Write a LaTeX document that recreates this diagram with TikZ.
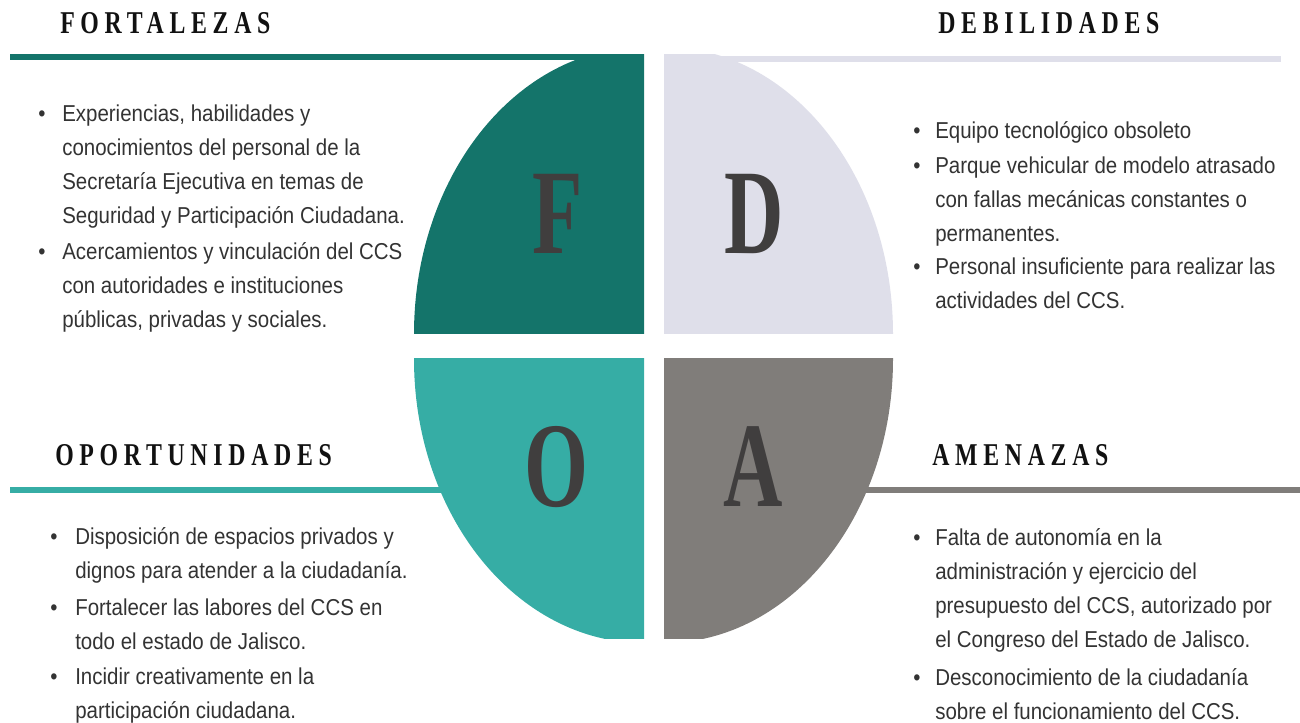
\documentclass[tikz,border=0pt]{standalone}
\usepackage{fontspec}
\setmainfont{Liberation Sans}[FakeStretch=0.89]
\newfontfamily\titlefont{Liberation Serif}[FakeStretch=0.75,LetterSpace=18]
\newfontfamily\letterfont{Liberation Serif}[FakeStretch=0.68]

\definecolor{fortcol}{RGB}{20,116,106}
\definecolor{debilcol}{RGB}{223,223,234}
\definecolor{oportcol}{RGB}{54,173,165}
\definecolor{amencol}{RGB}{128,125,122}
\definecolor{lettercol}{RGB}{64,62,62}
\definecolor{bodycol}{RGB}{51,51,51}
\definecolor{titlecol}{RGB}{17,17,17}

\tikzset{
  titletext/.style={anchor=west,inner sep=0pt,color=titlecol,font=\titlefont\bfseries\fontsize{23.8}{28}\selectfont},
  itemtext/.style={anchor=base west,inner sep=0pt,align=left,color=bodycol,font=\fontsize{17.25}{25.5}\selectfont},
  bullettext/.style={anchor=base,inner sep=0pt,color=bodycol,font=\fontsize{17.25}{25.5}\selectfont},
  quadletter/.style={inner sep=0pt,color=lettercol,font=\letterfont\bfseries\fontsize{90.75}{90}\selectfont},
  rule/.style={line width=4.5pt},
}

\begin{document}
\begin{tikzpicture}[x=0.75pt,y=0.75pt,yscale=-1,xscale=1]
\useasboundingbox (0,0) rectangle (1300,723);

%Straight Lines under the titles
\draw [rule,color=fortcol]    (10,57) -- (644,57) ;
\draw [rule,color=debilcol]   (664,59) -- (1281,59) ;
\draw [rule,color=oportcol]   (10,490) -- (500,490) ;
\draw [rule,color=amencol]    (820,490) -- (1300,490) ;

%Quarter F
\begin{scope}
\clip (414,55) rectangle (644,334);
\fill [fortcol] (644,334) ellipse [x radius=230, y radius=287];
\end{scope}
%Quarter D
\begin{scope}
\clip (664,55) rectangle (893,334);
\fill [debilcol] (664,334) ellipse [x radius=229, y radius=287];
\end{scope}
%Quarter O
\begin{scope}
\clip (414,359) rectangle (644,638);
\fill [oportcol] (644,359) ellipse [x radius=230, y radius=284];
\end{scope}
%Quarter A
\begin{scope}
\clip (664,359) rectangle (893,638);
\fill [amencol] (664,359) ellipse [x radius=229, y radius=284];
\end{scope}

% Big letters
\draw (558,214) node (letF) [quadletter] {F};
\draw (754,214) node (letD) [quadletter] {D};
\draw (556,467) node (letO) [quadletter] {O};
\draw (753,467) node (letA) [quadletter] {A};

% Titles
\draw (60,23) node (titF) [titletext] {FORTALEZAS};
\draw (938,23) node (titD) [titletext] {DEBILIDADES};
\draw (55,455) node (titO) [titletext] {OPORTUNIDADES};
\draw (932,455) node (titA) [titletext] {AMENAZAS};

% Text Node (base of a block = its last line)
\draw (42,122) node (bulF1) [bullettext] {•};
\draw (62,224) node (itemF1) [itemtext] {Experiencias, habilidades y\\conocimientos del personal de la\\Secretaría Ejecutiva en temas de\\Seguridad y Participación Ciudadana.};
\draw (42,260) node (bulF2) [bullettext] {•};
\draw (62,328) node (itemF2) [itemtext] {Acercamientos y vinculación del CCS\\con autoridades e instituciones\\públicas, privadas y sociales.};

% Text Node
\draw (917,139) node (bulD1) [bullettext] {•};
\draw (935,139) node (itemD1) [itemtext] {Equipo tecnológico obsoleto};
\draw (917,174) node (bulD2) [bullettext] {•};
\draw (935,242) node (itemD2) [itemtext] {Parque vehicular de modelo atrasado\\con fallas mecánicas constantes o\\permanentes.};
\draw (917,275) node (bulD3) [bullettext] {•};
\draw (935,309) node (itemD3) [itemtext] {Personal insuficiente para realizar las\\actividades del CCS.};

% Text Node
\draw (54,544) node (bulO1) [bullettext] {•};
\draw (75,578) node (itemO1) [itemtext] {Disposición de espacios privados y\\dignos para atender a la ciudadanía.};
\draw (54,615) node (bulO2) [bullettext] {•};
\draw (75,649) node (itemO2) [itemtext] {Fortalecer las labores del CCS en\\todo el estado de Jalisco.};
\draw (54,684) node (bulO3) [bullettext] {•};
\draw (75,718) node (itemO3) [itemtext] {Incidir creativamente en la\\participación ciudadana.};

% Text Node
\draw (917,545) node (bulA1) [bullettext] {•};
\draw (935,647) node (itemA1) [itemtext] {Falta de autonomía en la\\administración y ejercicio del\\presupuesto del CCS, autorizado por\\el Congreso del Estado de Jalisco.};
\draw (917,685) node (bulA2) [bullettext] {•};
\draw (935,719) node (itemA2) [itemtext] {Desconocimiento de la ciudadanía\\sobre el funcionamiento del CCS.};

\end{tikzpicture}
\end{document}
